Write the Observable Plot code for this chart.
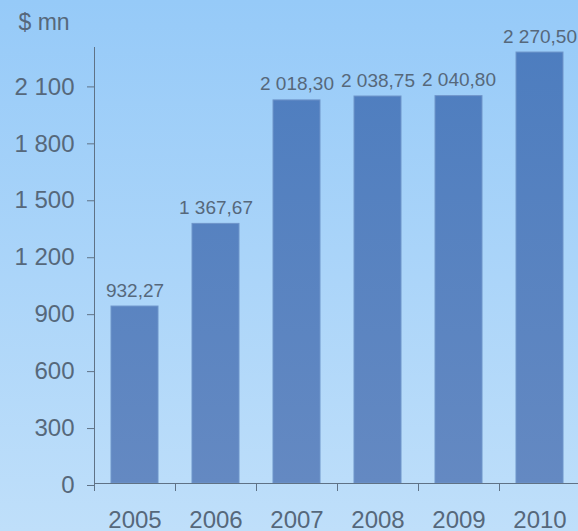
<!DOCTYPE html>
<html><head><meta charset="utf-8">
<script src="https://cdn.jsdelivr.net/npm/d3@7"></script>
<script src="https://cdn.jsdelivr.net/npm/@observablehq/plot@0.6"></script>
<style>
html,body{margin:0;padding:0;}
body{width:578px;height:531px;overflow:hidden;background:linear-gradient(to bottom,#96caf8,#bfdffa);}
#chart svg{display:block;background:transparent;}
</style></head><body><div id="chart"></div>
<script>
const years = ["2005","2006","2007","2008","2009","2010"];
const values = [932.27, 1367.67, 2018.30, 2038.75, 2040.80, 2270.50];
const yTicks = [0, 300, 600, 900, 1200, 1500, 1800, 2100];
const unitLabel = "$ mn";

const locale = d3.formatLocale({decimal: ",", thousands: "\u00a0", grouping: [3], currency: ["$", ""]});
const fmtTick = locale.format(",d");
const fmtVal = locale.format(",.2f");
const data = years.map((year, i) => ({year, value: values[i]}));
const textColor = "#56687b";
const axisColor = "#5f7286";

function gradientDefs(index, scales, values, dims) {
  const d = d3.create("svg:defs");
  const g = d.append("linearGradient").attr("id", "barGrad")
    .attr("gradientUnits", "userSpaceOnUse")
    .attr("x1", 0).attr("x2", 0)
    .attr("y1", dims.marginTop).attr("y2", dims.height - dims.marginBottom);
  g.append("stop").attr("offset", "0%").attr("stop-color", "#4d7dbf");
  g.append("stop").attr("offset", "100%").attr("stop-color", "#6489c2");
  return d.node();
}

const plot = Plot.plot({
  width: 578, height: 531,
  marginTop: 47, marginBottom: 48, marginLeft: 94, marginRight: -2,
  style: {background: "transparent", fontFamily: "'Liberation Sans', Arial, sans-serif", color: textColor},
  x: {domain: years, paddingInner: 0.42, paddingOuter: 0.21, align: 0.5, axis: null, label: null},
  y: {domain: [0, 2297], axis: null, label: null},
  marks: [
    gradientDefs,
    Plot.barY(data, {x: "year", y: "value", fill: "url(#barGrad)", stroke: "#6f95ca", strokeWidth: 1}),
    Plot.axisY(yTicks, {tickSize: 7, tickPadding: 13, tickFormat: fmtTick, fontSize: 24, stroke: axisColor, fill: textColor, dy: 2, label: null}),
    Plot.frame({anchor: "left", stroke: axisColor}),
    Plot.ruleY([0], {stroke: axisColor, strokeWidth: 1}),
    Plot.ruleX(years, {x: d => d, y1: 0, y2: 0, insetBottom: -8, dx: -40.5, stroke: axisColor}),
    Plot.axisX({tickSize: 0, tickPadding: 27, fontSize: 24, fill: textColor, label: null}),
    Plot.text(data, {x: "year", y: "value", text: d => fmtVal(d.value), dy: -16, lineAnchor: "middle", fontSize: 19, fill: textColor}),
    Plot.text([unitLabel], {frameAnchor: "top-left", textAnchor: "start", lineAnchor: "middle", dx: -76, dy: -24.5, fontSize: 23, fill: textColor})
  ]
});
document.getElementById("chart").appendChild(plot);
</script>
</body></html>
